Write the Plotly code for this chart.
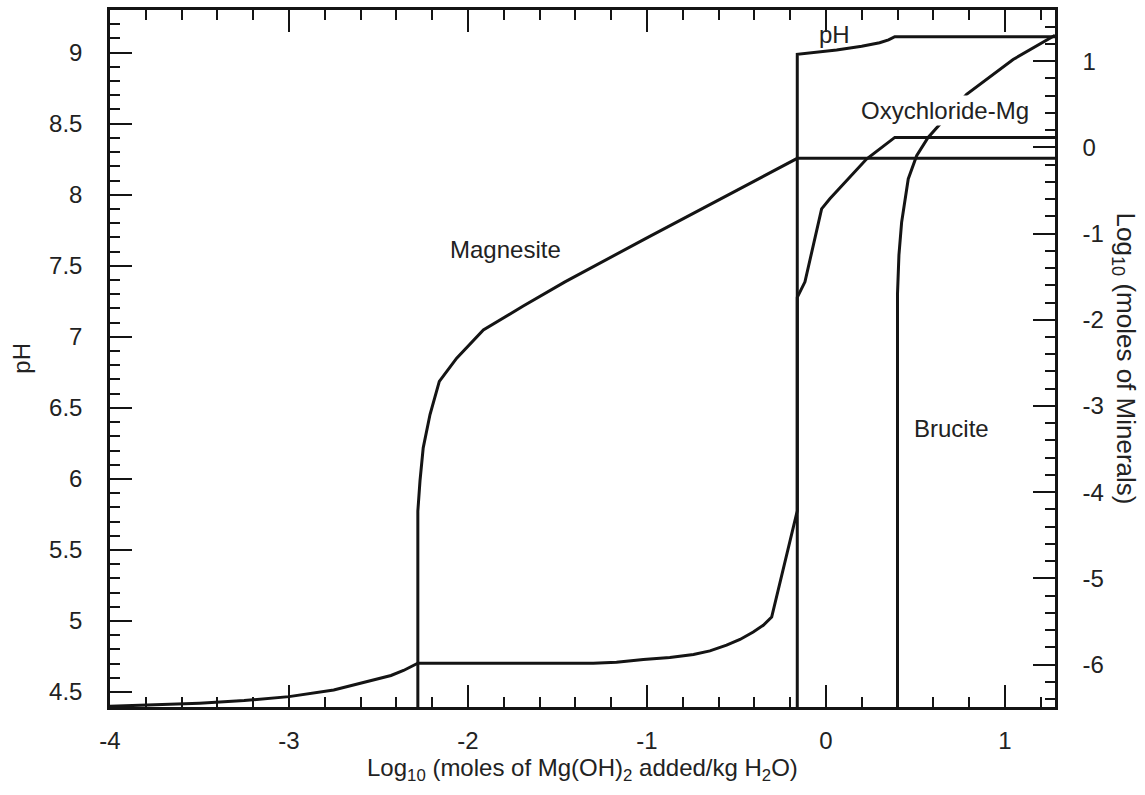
import plotly.graph_objects as go

# ---- data ----
# pH curve (left axis)
ph_x = [-4.0, -3.75, -3.5, -3.25, -3.0, -2.75, -2.57, -2.50, -2.43, -2.36, -2.28,
        -1.8, -1.30, -1.17, -1.02, -0.872, -0.74, -0.648, -0.555, -0.48, -0.406, -0.35,
        -0.303, -0.16, -0.16, 0.06, 0.20, 0.30, 0.35, 0.385, 1.28]
ph_y = [4.40, 4.41, 4.422, 4.44, 4.468, 4.515, 4.573, 4.592, 4.617, 4.652, 4.703,
        4.703, 4.703, 4.71, 4.73, 4.744, 4.765, 4.79, 4.83, 4.87, 4.923, 4.97,
        5.028, 5.776, 8.988, 9.019, 9.045, 9.07, 9.09, 9.112, 9.112]

# log10 moles of minerals (right axis)
mag_x = [-2.28, -2.28, -2.268, -2.25, -2.212, -2.16, -2.063, -1.914, -1.691, -1.458,
         -1.0, -0.5, -0.16, 1.28]
mag_y = [-6.5, -4.22, -3.87, -3.486, -3.10, -2.715, -2.446, -2.118, -1.84, -1.56,
         -1.05, -0.50, -0.127, -0.127]

oxy_x = [-0.16, -0.16, -0.117, -0.024, 0.022, 0.227, 0.385, 1.28]
oxy_y = [-6.5, -1.74, -1.56, -0.713, -0.597, -0.135, 0.116, 0.116]

bru_x = [0.40, 0.40, 0.408, 0.423, 0.46, 0.507, 0.571, 0.637, 0.786, 1.046, 1.28]
bru_y = [-6.5, -1.70, -1.25, -0.87, -0.366, -0.096, 0.116, 0.27, 0.616, 1.02, 1.30]

x_ticks = [-4, -3, -2, -1, 0, 1]
x_ticktext = ["-4", "-3", "-2", "-1", "0", "1"]
ph_ticks = [4.5, 5, 5.5, 6, 6.5, 7, 7.5, 8, 8.5, 9]
ph_ticktext = ["4.5", "5", "5.5", "6", "6.5", "7", "7.5", "8", "8.5", "9"]
min_ticks = [-6, -5, -4, -3, -2, -1, 0, 1]
min_ticktext = ["-6", "-5", "-4", "-3", "-2", "-1", "0", "1"]

labels = [
    ("Magnesite", -1.793, 7.612),
    ("pH", 0.05, 9.128),
    ("Oxychloride-Mg", 0.665, 8.594),
    ("Brucite", 0.704, 6.358),
]

# ---- figure ----
LINE = "#141414"
TXT = "#222222"
FONT = "Liberation Sans, Arial, sans-serif"
FS = 24

fig = go.Figure()
line_style = dict(color=LINE, width=3)
fig.add_trace(go.Scatter(x=ph_x, y=ph_y, mode="lines", line=line_style, yaxis="y"))
fig.add_trace(go.Scatter(x=mag_x, y=mag_y, mode="lines", line=line_style, yaxis="y2"))
fig.add_trace(go.Scatter(x=oxy_x, y=oxy_y, mode="lines", line=line_style, yaxis="y2"))
fig.add_trace(go.Scatter(x=bru_x, y=bru_y, mode="lines", line=line_style, yaxis="y2"))

for text, lx, ly in labels:
    fig.add_annotation(x=lx, y=ly, xref="x", yref="y", text=text, showarrow=False,
                       xanchor="center", yanchor="middle",
                       font=dict(family=FONT, size=FS, color=TXT),
                       bgcolor="white" if text == "Oxychloride-Mg" else None,
                       borderpad=1)

fig.add_annotation(x=0.5, y=-0.09, xref="paper", yref="paper",
                   xanchor="center", yanchor="middle",
                   text="Log<sub>10</sub> (moles of Mg(OH)<sub>2</sub> added/kg H<sub>2</sub>O)",
                   showarrow=False, font=dict(family=FONT, size=FS, color=TXT))
fig.add_annotation(x=-0.094, y=0.5, xref="paper", yref="paper", text="pH", textangle=-90,
                   xanchor="center", yanchor="middle",
                   showarrow=False, font=dict(family=FONT, size=FS, color=TXT))
fig.add_annotation(x=1.074, y=0.5, xref="paper", yref="paper",
                   xanchor="center", yanchor="middle",
                   text="Log<sub>10</sub> (moles of Minerals)", textangle=90,
                   showarrow=False, font=dict(family=FONT, size=26, color=TXT))

axis_common = dict(showgrid=False, zeroline=False, showline=True, linecolor=LINE,
                   linewidth=2.5, ticks="inside", ticklen=22, tickwidth=2, tickcolor=LINE,
                   tickfont=dict(family=FONT, size=FS, color=TXT))

fig.update_layout(
    width=1145, height=795,
    margin=dict(l=110, r=90, t=7, b=88),
    paper_bgcolor="white", plot_bgcolor="white",
    showlegend=False,
    xaxis=dict(range=[-4, 1.28], tickmode="array", tickvals=x_ticks, ticktext=x_ticktext,
               mirror="ticks", ticklabelstandoff=10,
               minor=dict(tickmode="linear", tick0=0, dtick=0.2, ticks="inside",
                          ticklen=10, tickwidth=2, tickcolor=LINE),
               **axis_common),
    yaxis=dict(range=[4.395, 9.30], tickmode="array", tickvals=ph_ticks, ticktext=ph_ticktext,
               ticklabelstandoff=20,
               minor=dict(tickmode="linear", tick0=0, dtick=0.1, ticks="inside",
                          ticklen=10, tickwidth=2, tickcolor=LINE),
               **axis_common),
    yaxis2=dict(range=[-6.493, 1.594], overlaying="y", side="right", tickmode="array",
                tickvals=min_ticks, ticktext=min_ticktext, ticklabelstandoff=20,
                minor=dict(tickmode="linear", tick0=0, dtick=0.2, ticks="inside",
                           ticklen=10, tickwidth=2, tickcolor=LINE),
                **axis_common),
)

fig.write_html("out.html", config={"displayModeBar": False},
               post_script="document.body.style.margin='0';")
